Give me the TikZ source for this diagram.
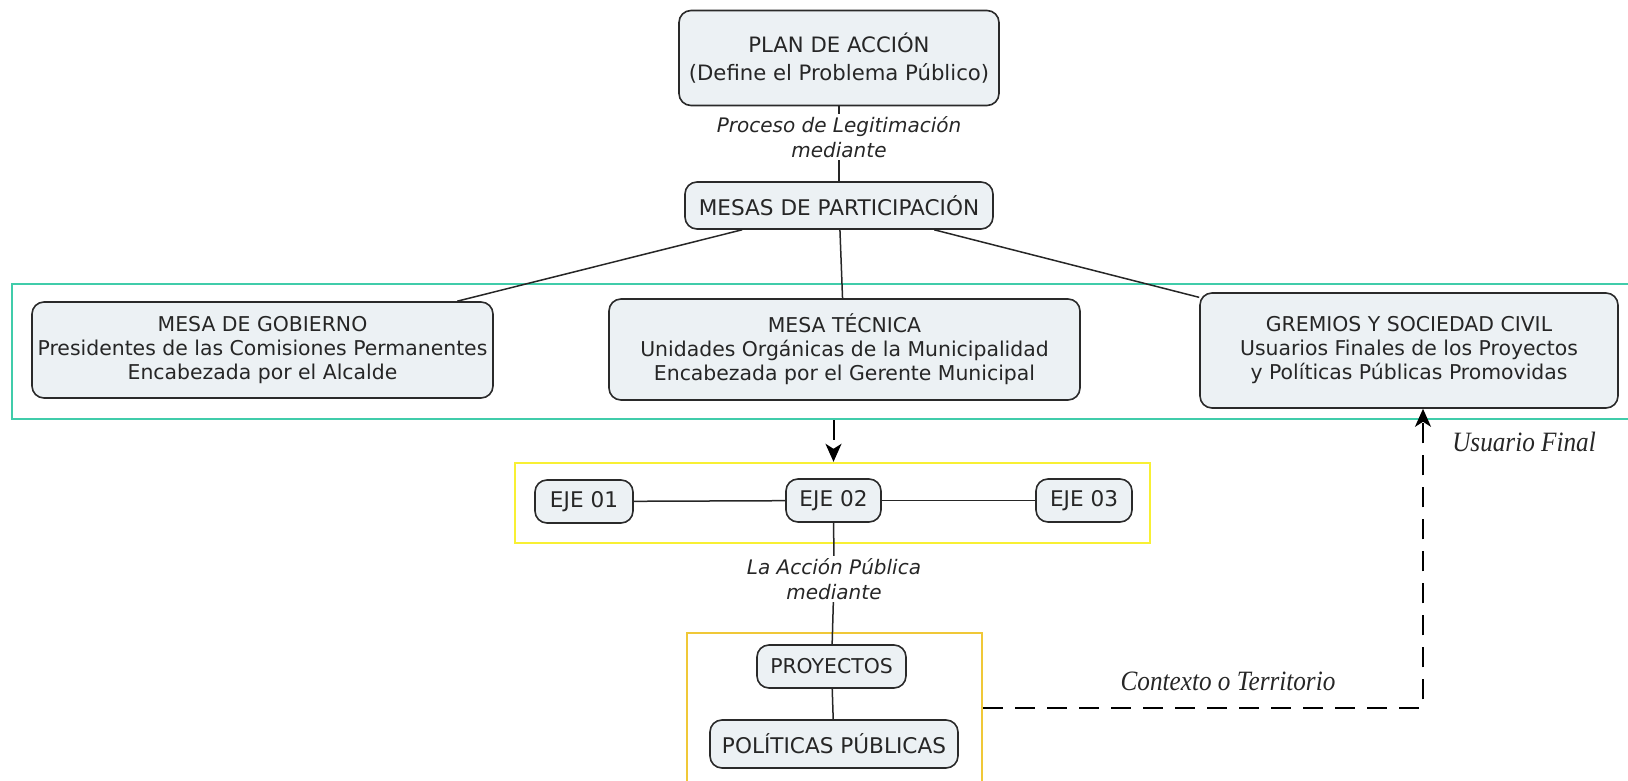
\documentclass[tikz,border=0pt]{standalone}
\usepackage{fontspec}
\setmainfont{DejaVu Sans}
\newfontfamily\etiqfont[FakeStretch=0.9]{Liberation Serif}
\usepackage{xcolor}
\usepackage{tikz}
\usetikzlibrary{arrows.meta,positioning,calc}

\definecolor{cajafondo}{HTML}{ECF1F4}
\definecolor{borde}{HTML}{2A2A2A}
\definecolor{marcoverde}{HTML}{40CCAA}
\definecolor{marcoamarillo}{HTML}{F8F034}
\definecolor{marcoocre}{HTML}{F0C838}

\begin{document}
\begin{tikzpicture}[x=0.5pt,y=-0.5pt,
  every node/.style={align=center,font=\fontsize{10.2}{12}\selectfont,text=black!85},
  concepto/.style={draw=borde,line width=0.8pt,rounded corners=6pt,fill=cajafondo,inner sep=0pt},
  mayus/.style={font=\fontsize{10.8}{13}\selectfont},
  enlace/.style={inner sep=1pt,font=\fontsize{10}{12.5}\selectfont\itshape},
  contexto/.style={inner sep=1pt,font=\fontsize{14}{16}\selectfont\etiqfont\itshape},
  marco/.style={line width=1.2pt,inner sep=0pt},
  line/.style={draw=black!85,line width=0.75pt},
  dashto/.style={draw=black,line width=1pt,dash pattern=on 10pt off 6pt,-{Stealth[length=9pt,width=8pt,inset=2.5pt]}}]

    \useasboundingbox (0,0) rectangle (1628,781);

    % marcos
    \node[marco,draw=marcoverde,minimum width=814pt,minimum height=67.5pt](mesasmarco) at (826,351.5){};
    \node[marco,draw=marcoamarillo,minimum width=317.5pt,minimum height=40pt](ejesmarco) at (832.5,503){};
    \node[marco,draw=marcoocre,minimum width=147.5pt,minimum height=74.5pt](proymarco) at (834.5,707.5){};

    \node[concepto,minimum width=160pt,minimum height=47.5pt,font=\fontsize{10.6}{14}\selectfont](plan) at (839,58){PLAN DE ACCIÓN\\(Define el Problema Público)};
    \node[enlace](legit) at (839,137){Proceso de Legitimación\\mediante};
    \node[concepto,mayus,minimum width=154pt,minimum height=23.5pt](mesas) at (839,205.5){MESAS DE PARTICIPACIÓN};

    \node[concepto,minimum width=230.5pt,minimum height=48pt](gobierno) at (262.5,350){MESA DE GOBIERNO\\Presidentes de las Comisiones Permanentes\\Encabezada por el Alcalde};
    \node[concepto,minimum width=235.5pt,minimum height=50.5pt](tecnica) at (844.5,349.5){MESA TÉCNICA\\Unidades Orgánicas de la Municipalidad\\Encabezada por el Gerente Municipal};
    \node[concepto,minimum width=209pt,minimum height=57.5pt](gremios) at (1409,350.5){GREMIOS Y SOCIEDAD CIVIL\\Usuarios Finales de los Proyectos\\y Políticas Públicas Promovidas};

    \node[concepto,mayus,minimum width=49pt,minimum height=21.5pt](eje1) at (584,501.5){EJE 01};
    \node[concepto,mayus,minimum width=47.5pt,minimum height=21.5pt](eje2) at (833.5,500.5){EJE 02};
    \node[concepto,mayus,minimum width=48pt,minimum height=21.5pt](eje3) at (1084,500.5){EJE 03};

    \node[enlace](accion) at (834,579){La Acción Pública\\mediante};
    \node[concepto,minimum width=74.5pt,minimum height=21.5pt](proyectos) at (831.5,666.5){PROYECTOS};
    \node[concepto,mayus,minimum width=124pt,minimum height=24pt](politicas) at (834,744){POLÍTICAS PÚBLICAS};

    \node[contexto](territorio) at (1228,681){Contexto o Territorio};
    \node[contexto](usuario) at (1524,442){Usuario Final};
    \coordinate (codo) at (1423,707.5);

    \draw[line](plan) -- (legit);
    \draw[line](legit) -- (mesas);
    \draw[line](mesas) -- (gobierno);
    \draw[line](mesas) -- (tecnica);
    \draw[line](mesas) -- (gremios);
    \draw[dashto](mesasmarco.south -| eje2) -- (ejesmarco.north -| eje2);
    \draw[line](eje1) -- (eje2);
    \draw[line](eje2) -- (eje3);
    \draw[line](eje2) -- (accion);
    \draw[line](accion) -- (proyectos);
    \draw[line](proyectos) -- (politicas);
    \draw[dashto](proymarco.east) -- (codo) -- (codo |- gremios.south);
\end{tikzpicture}
\end{document}
